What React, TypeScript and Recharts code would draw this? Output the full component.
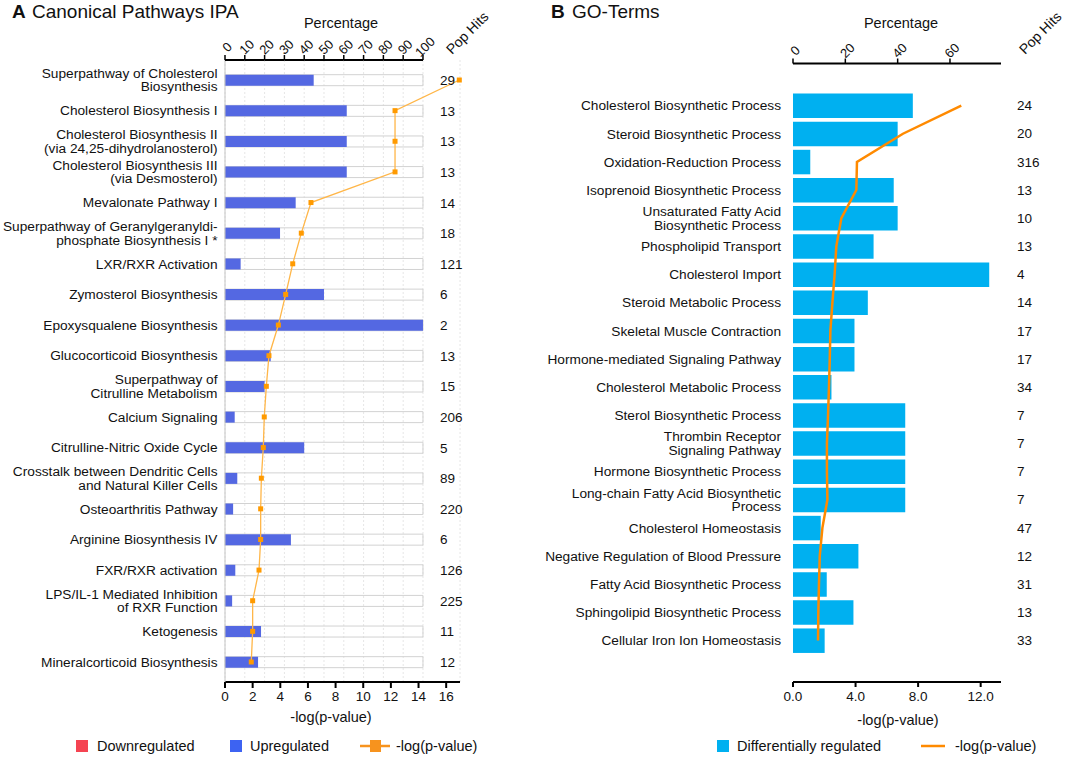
import React from 'react'
import {
  ComposedChart,
  Bar,
  Line,
  XAxis,
  YAxis,
  CartesianGrid,
  LabelList,
} from 'recharts'

const FONT = '"Liberation Sans", Arial, Helvetica, sans-serif'

// ---- Panel A: IPA canonical pathways ----
const ipaPathways = [
  'Superpathway of Cholesterol\nBiosynthesis',
  'Cholesterol Biosynthesis I',
  'Cholesterol Biosynthesis II\n(via 24,25-dihydrolanosterol)',
  'Cholesterol Biosynthesis III\n(via Desmosterol)',
  'Mevalonate Pathway I',
  'Superpathway of Geranylgeranyldi-\nphosphate Biosynthesis I *',
  'LXR/RXR Activation',
  'Zymosterol Biosynthesis',
  'Epoxysqualene Biosynthesis',
  'Glucocorticoid Biosynthesis',
  'Superpathway of\nCitrulline Metabolism',
  'Calcium Signaling',
  'Citrulline-Nitric Oxide Cycle',
  'Crosstalk between Dendritic Cells\nand Natural Killer Cells',
  'Osteoarthritis Pathway',
  'Arginine Biosynthesis IV',
  'FXR/RXR activation',
  'LPS/IL-1 Mediated Inhibition\nof RXR Function',
  'Ketogenesis',
  'Mineralcorticoid Biosynthesis',
]
const ipaPercent = [44.8, 61.5, 61.5, 61.5, 35.7, 27.8, 7.9, 50, 100, 23.1, 20, 4.9, 40, 6.2, 4.1, 33.3, 5.2, 3.6, 18.2, 16.7]
const ipaLogP = [16.95, 12.3, 12.3, 12.3, 6.22, 5.52, 4.9, 4.39, 3.86, 3.18, 2.99, 2.84, 2.77, 2.63, 2.58, 2.58, 2.46, 2.0, 2.0, 1.9]
const ipaPopHits = [29, 13, 13, 13, 14, 18, 121, 6, 2, 13, 15, 206, 5, 89, 220, 6, 126, 225, 11, 12]
const pctTicksA = [0, 10, 20, 30, 40, 50, 60, 70, 80, 90, 100]
const logTicksA = [0, 2, 4, 6, 8, 10, 12, 14, 16]

// ---- Panel B: GO terms ----
const goTerms = [
  'Cholesterol Biosynthetic Process',
  'Steroid Biosynthetic Process',
  'Oxidation-Reduction Process',
  'Isoprenoid Biosynthetic Process',
  'Unsaturated Fatty Acid\nBiosynthetic Process',
  'Phospholipid Transport',
  'Cholesterol Import',
  'Steroid Metabolic Process',
  'Skeletal Muscle Contraction',
  'Hormone-mediated Signaling Pathway',
  'Cholesterol Metabolic Process',
  'Sterol Biosynthetic Process',
  'Thrombin Receptor\nSignaling Pathway',
  'Hormone Biosynthetic Process',
  'Long-chain Fatty Acid Biosynthetic\nProcess',
  'Cholesterol Homeostasis',
  'Negative Regulation of Blood Pressure',
  'Fatty Acid Biosynthetic Process',
  'Sphingolipid Biosynthetic Process',
  'Cellular Iron Ion Homeostasis',
]
const goPercent = [45.8, 40, 6.6, 38.5, 40, 30.8, 75, 28.6, 23.5, 23.5, 14.7, 42.9, 42.9, 42.9, 42.9, 10.6, 25, 12.9, 23.1, 12.1]
const goLogP = [10.76, 7.03, 4.09, 4.05, 3.09, 2.77, 2.66, 2.52, 2.39, 2.35, 2.3, 2.24, 2.17, 2.17, 2.2, 1.88, 1.71, 1.66, 1.62, 1.6]
const goPopHits = [24, 20, 316, 13, 10, 13, 4, 14, 17, 17, 34, 7, 7, 7, 7, 47, 12, 31, 13, 33]
const pctTicksB = [0, 20, 40, 60]
const logTicksB = [0, 4, 8, 12]

const ipaData = ipaPathways.map((name, i) => ({
  name,
  pct: ipaPercent[i],
  full: 100,
  logp: ipaLogP[i],
  hits: ipaPopHits[i],
}))

const goData = goTerms.map((name, i) => ({
  name,
  pct: goPercent[i],
  logp: goLogP[i],
  hits: goPopHits[i],
}))

const goHitsByName: Record<string, number> = {}
goData.forEach(d => {
  goHitsByName[d.name] = d.hits
})

// panel A geometry: the percentage axis only runs 0..100, the plot is wider
const A_WIDTH = 480
const A_MARGIN_RIGHT = 20
const A_YAXIS_W = 225
const A_PCT_MAX = 118.7
const A_PCT_STEP_PX = ((A_WIDTH - A_MARGIN_RIGHT - A_YAXIS_W) * 10) / A_PCT_MAX

function CategoryTick({ x, y, payload, lineHeight = 13.3 }: any) {
  const lines = String(payload.value).split('\n')
  const start = -((lines.length - 1) * lineHeight) / 2
  return (
    <g>
      {lines.map((l, i) => (
        <text
          key={i}
          x={x}
          y={y + start + i * lineHeight}
          dy="0.35em"
          textAnchor="end"
          fontSize={13.7}
          fontFamily={FONT}
          fill="#111"
        >
          {l}
        </text>
      ))}
    </g>
  )
}

function RotatedTick({ x, y, payload, segLen, lastValue }: any) {
  return (
    <g>
      {segLen && payload.value < lastValue ? (
        <line x1={x} x2={x + segLen} y1={y + 7} y2={y + 7} stroke="#000" strokeWidth={2} />
      ) : null}
      <text
        transform={`translate(${x + 2},${y - 6}) rotate(-45)`}
        textAnchor="middle"
        dominantBaseline="central"
        fontSize={13}
        fontFamily={FONT}
        fill="#111"
      >
        {payload.value}
      </text>
    </g>
  )
}

function HitsTick({ x, y, payload }: any) {
  return (
    <text x={x + 16} y={y} dy="0.35em" textAnchor="start" fontSize={13.5} fontFamily={FONT} fill="#111">
      {goHitsByName[payload.value]}
    </text>
  )
}

const axisTick = { fontSize: 13.5, fill: '#111', fontFamily: FONT }

function PanelA() {
  return (
    <ComposedChart
      layout="vertical"
      width={A_WIDTH}
      height={757}
      data={ipaData}
      margin={{ top: 20, right: A_MARGIN_RIGHT, bottom: 25, left: 0 }}
      barSize={11}
      barGap={-11}
    >
      <CartesianGrid
        xAxisId="pct"
        yAxisId="cat"
        horizontal={false}
        stroke="#e6e6e6"
        strokeDasharray="2 2"
      />
      <XAxis
        xAxisId="pct"
        orientation="top"
        type="number"
        domain={[0, A_PCT_MAX]}
        ticks={pctTicksA}
        interval={0}
        axisLine={false}
        tickLine={{ stroke: '#000', strokeWidth: 1.5 }}
        tickSize={5}
        tickMargin={2}
        tick={<RotatedTick segLen={A_PCT_STEP_PX} lastValue={100} />}
        height={40}
      />
      <XAxis
        xAxisId="lp"
        orientation="bottom"
        type="number"
        domain={[0, 17]}
        ticks={logTicksA}
        interval={0}
        axisLine={{ stroke: '#000', strokeWidth: 2 }}
        tickLine={{ stroke: '#000', strokeWidth: 2 }}
        tickSize={6}
        tickMargin={3}
        tick={axisTick}
        height={50}
      />
      <YAxis
        yAxisId="cat"
        type="category"
        dataKey="name"
        width={A_YAXIS_W}
        interval={0}
        axisLine={{ stroke: '#c4c4c4' }}
        tickLine={false}
        tickSize={0}
        tickMargin={7.5}
        padding={{ top: 4.7, bottom: 4.7 }}
        tick={<CategoryTick />}
      />
      <Bar
        xAxisId="pct"
        yAxisId="cat"
        dataKey="full"
        fill="none"
        stroke="#d2d2d2"
        strokeWidth={1}
        isAnimationActive={false}
      >
        <LabelList
          dataKey="hits"
          position="right"
          offset={17}
          fontSize={13.5}
          fontFamily={FONT}
          fill="#111"
        />
      </Bar>
      <Bar xAxisId="pct" yAxisId="cat" dataKey="pct" fill="#5468e2" isAnimationActive={false} />
      <Line
        xAxisId="lp"
        yAxisId="cat"
        dataKey="logp"
        type="linear"
        stroke="#ffb648"
        strokeWidth={1.3}
        dot={(p: any) => (
          <rect key={`d${p.index}`} x={p.cx - 2.5} y={p.cy - 2.5} width={5} height={5} fill="#ff9a00" />
        )}
        activeDot={false}
        isAnimationActive={false}
      />
    </ComposedChart>
  )
}

function PanelB() {
  return (
    <ComposedChart
      layout="vertical"
      width={545}
      height={757}
      data={goData}
      margin={{ top: 23.5, right: 14, bottom: 25, left: 0 }}
      barSize={24.5}
    >
      <XAxis
        xAxisId="pct"
        orientation="top"
        type="number"
        domain={[0, 79.5]}
        ticks={pctTicksB}
        interval={0}
        axisLine={{ stroke: '#000', strokeWidth: 2 }}
        tickLine={{ stroke: '#000', strokeWidth: 1.5 }}
        tickSize={5}
        tickMargin={2}
        tick={<RotatedTick />}
        height={40}
      />
      <XAxis
        xAxisId="lp"
        orientation="bottom"
        type="number"
        domain={[0, 13.3]}
        ticks={logTicksB}
        interval={0}
        tickFormatter={(v: number) => v.toFixed(1)}
        axisLine={{ stroke: '#000', strokeWidth: 2 }}
        tickLine={{ stroke: '#000', strokeWidth: 2 }}
        tickSize={5}
        tickMargin={4}
        tick={axisTick}
        height={50}
      />
      <YAxis
        yAxisId="cat"
        type="category"
        dataKey="name"
        width={273}
        interval={0}
        axisLine={false}
        tickLine={false}
        tickSize={0}
        tickMargin={12}
        padding={{ top: 28, bottom: 27.4 }}
        tick={<CategoryTick lineHeight={13.7} />}
      />
      <YAxis
        yAxisId="hits"
        orientation="right"
        type="category"
        dataKey="name"
        width={50}
        interval={0}
        axisLine={false}
        tickLine={false}
        tickSize={0}
        tickMargin={0}
        padding={{ top: 28, bottom: 27.4 }}
        tick={<HitsTick />}
      />
      <Bar xAxisId="pct" yAxisId="cat" dataKey="pct" fill="#00b0f0" isAnimationActive={false} />
      <Line
        xAxisId="lp"
        yAxisId="cat"
        dataKey="logp"
        type="linear"
        stroke="#ff8a00"
        strokeWidth={2.5}
        dot={false}
        activeDot={false}
        isAnimationActive={false}
      />
    </ComposedChart>
  )
}

function Overlay() {
  const t = { fontFamily: FONT, fill: '#111' }
  return (
    <svg
      width={1065}
      height={757}
      style={{ position: 'absolute', left: 0, top: 0, pointerEvents: 'none' }}
    >
      {/* titles */}
      <text x={12} y={18} fontSize={19} fontWeight="bold" {...t}>A</text>
      <text x={32} y={18} fontSize={19} {...t}>Canonical Pathways IPA</text>
      <text x={551} y={18} fontSize={19} fontWeight="bold" {...t}>B</text>
      <text x={572} y={18} fontSize={19} {...t}>GO-Terms</text>

      {/* axis titles */}
      <text x={341} y={28} fontSize={14.5} textAnchor="middle" {...t}>Percentage</text>
      <text x={901} y={28} fontSize={14.5} textAnchor="middle" {...t}>Percentage</text>
      <text transform="translate(452,55) rotate(-45)" fontSize={14} {...t}>Pop Hits</text>
      <text transform="translate(1025,55) rotate(-45)" fontSize={14} {...t}>Pop Hits</text>
      <text x={331} y={722} fontSize={14.5} textAnchor="middle" {...t}>-log(p-value)</text>
      <text x={898} y={725} fontSize={14.5} textAnchor="middle" {...t}>-log(p-value)</text>

      {/* legend A */}
      <rect x={76} y={740} width={12} height={12} fill="#f54452" />
      <text x={97} y={751} fontSize={14.5} {...t}>Downregulated</text>
      <rect x={230} y={740} width={12} height={12} fill="#3d63f2" />
      <text x={250} y={751} fontSize={14.5} {...t}>Upregulated</text>
      <line x1={360} y1={746} x2={390} y2={746} stroke="#f7931e" strokeWidth={2.5} />
      <rect x={370} y={740} width={11} height={12} fill="#f7931e" />
      <text x={396} y={751} fontSize={14.5} {...t}>-log(p-value)</text>

      {/* legend B */}
      <rect x={717} y={740} width={12} height={12} fill="#00b0f0" />
      <text x={737} y={751} fontSize={14.5} {...t}>Differentially regulated</text>
      <line x1={921} y1={746} x2={945} y2={746} stroke="#ff8a00" strokeWidth={2.5} />
      <text x={955} y={751} fontSize={14.5} {...t}>-log(p-value)</text>
    </svg>
  )
}

export default function App() {
  return (
    <div
      style={{
        position: 'absolute',
        left: 0,
        top: 0,
        width: 1065,
        height: 757,
        background: '#fff',
        overflow: 'hidden',
        fontFamily: FONT,
      }}
    >
      <div style={{ position: 'absolute', left: 0, top: 0 }}>
        <PanelA />
      </div>
      <div style={{ position: 'absolute', left: 520, top: 0 }}>
        <PanelB />
      </div>
      <Overlay />
    </div>
  )
}
